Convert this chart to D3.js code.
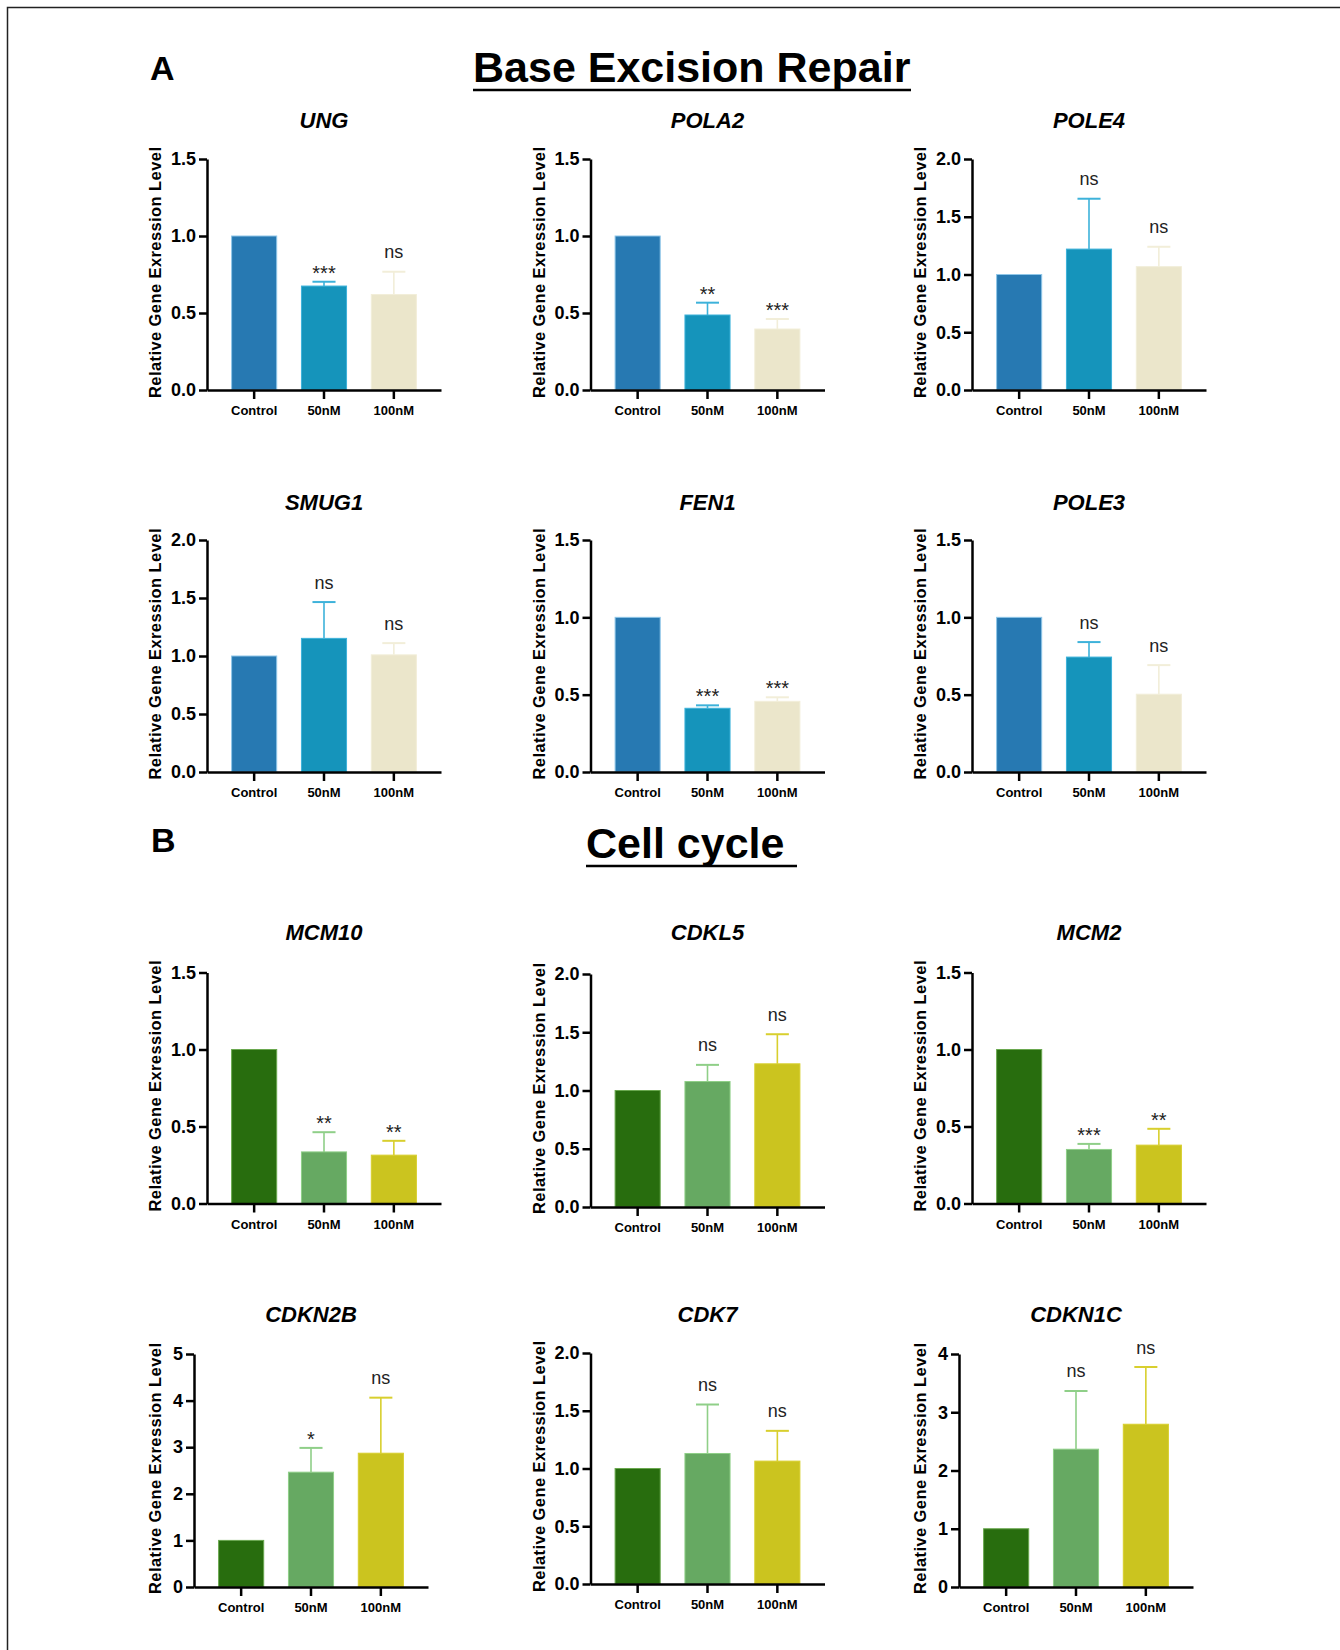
<!DOCTYPE html>
<html>
<head>
<meta charset="utf-8">
<script src="https://cdn.jsdelivr.net/npm/d3@7"></script>
<style>
  body { margin: 0; background: #fff; }
  svg { display: block; font-family: "Liberation Sans", Arial, sans-serif; }
</style>
</head>
<body>
<svg id="chart"></svg>
<script>
const width = 1340;
const height = 1650;

// data
const groups = ["Control", "50nM", "100nM"];
const genes = ["UNG", "POLA2", "POLE4", "SMUG1", "FEN1", "POLE3",
               "MCM10", "CDKL5", "MCM2", "CDKN2B", "CDK7", "CDKN1C"];
const means = [
  [1, 0.675, 0.62], [1, 0.487, 0.396], [1, 1.22, 1.068],
  [1, 1.152, 1.01], [1, 0.412, 0.457], [1, 0.743, 0.503],
  [1, 0.335, 0.314], [1, 1.077, 1.229], [1, 0.351, 0.379],
  [1, 2.464, 2.871], [1, 1.13, 1.064], [1, 2.366, 2.794]
];
const sds = [
  [0, 0.028, 0.148], [0, 0.08, 0.065], [0, 0.436, 0.172],
  [0, 0.313, 0.101], [0, 0.019, 0.026], [0, 0.097, 0.188],
  [0, 0.128, 0.093], [0, 0.143, 0.254], [0, 0.036, 0.106],
  [0, 0.521, 1.192], [0, 0.424, 0.262], [0, 0.999, 0.983]
];
const marks = [
  ["", "***", "ns"], ["", "**", "***"], ["", "ns", "ns"],
  ["", "ns", "ns"], ["", "***", "***"], ["", "ns", "ns"],
  ["", "**", "**"], ["", "ns", "ns"], ["", "***", "**"],
  ["", "*", "ns"], ["", "ns", "ns"], ["", "ns", "ns"]
];
const yMax = [1.5, 1.5, 2, 2, 1.5, 1.5, 1.5, 2, 1.5, 5, 2, 4];
const yStep = [0.5, 0.5, 0.5, 0.5, 0.5, 0.5, 0.5, 0.5, 0.5, 1, 0.5, 1];
const sections = ["Base Excision Repair", "Cell cycle"];
const letters = ["A", "B"];
const yTitle = "Relative Gene Exression Level";

// colours: first six panels blue set, last six green set
const palettes = [
  { fill: ["#2779b2", "#1594bb", "#ebe6cb"], edge: ["#8fc6e8", "#3db2da", "#f2eed9"] },
  { fill: ["#286d0e", "#66a962", "#cbc41f"], edge: ["#6aa84f", "#8fcf88", "#d8cf2e"] }
];

// layout
const colX = [161, 544.5, 926];          // baseline of the y title per column
const rowTitle = [128, 510, 940, 1322];
const panelBox = [                        // [axis bottom, plot height]
  [390, 231], [390, 231], [390, 231],
  [772, 232], [772, 232], [772, 232],
  [1203.5, 231], [1207, 233], [1203.5, 231],
  [1587, 233], [1584, 231], [1587, 233]
];
const plotW = 234;

const svg = d3.select("#chart").attr("width", width).attr("height", height);
svg.append("rect").attr("width", width).attr("height", height).attr("fill", "#fff");

svg.append("path")
  .attr("d", `M7.5,${height} V7.5 H${width}`)
  .attr("fill", "none").attr("stroke", "#222").attr("stroke-width", 1.5);

// section headers (underline runs a little past "Cell cycle", as in the figure)
const letterPos = [[150, 80], [151, 852]];
const headPos = [[473, 82], [586, 858]];
const underlineEnd = [911, 797];
sections.forEach((s, k) => {
  svg.append("text").attr("x", letterPos[k][0]).attr("y", letterPos[k][1])
    .attr("font-size", 34).attr("font-weight", "bold").text(letters[k]);
  svg.append("text").attr("x", headPos[k][0]).attr("y", headPos[k][1])
    .attr("font-size", 43).attr("font-weight", "bold").text(s);
  svg.append("line")
    .attr("x1", headPos[k][0]).attr("x2", underlineEnd[k])
    .attr("y1", headPos[k][1] + 8).attr("y2", headPos[k][1] + 8)
    .attr("stroke", "#000").attr("stroke-width", 2.5);
});

genes.forEach((gene, i) => {
  const row = Math.floor(i / 3), col = i % 3;
  const [bottom, h] = panelBox[i];
  const intTicks = yStep[i] >= 1;
  const x0 = colX[col] + (intTicks ? 33 : 46);
  const pal = palettes[i < 6 ? 0 : 1];

  const y = d3.scaleLinear().domain([0, yMax[i]]).range([h, 0]);
  const x = d3.scaleBand().domain(groups).range([0, plotW])
    .paddingInner(0.34).paddingOuter(0.345);

  const g = svg.append("g").attr("transform", `translate(${x0},${bottom - h})`);

  // bars
  g.selectAll("rect.bar").data(groups).join("rect")
    .attr("class", "bar")
    .attr("x", d => x(d) + 0.5)
    .attr("width", x.bandwidth() - 1)
    .attr("y", (d, j) => y(means[i][j]))
    .attr("height", (d, j) => h - y(means[i][j]))
    .attr("fill", (d, j) => pal.fill[j])
    .attr("stroke", (d, j) => pal.edge[j])
    .attr("stroke-width", 1);

  // error bars (upper only) and significance marks
  groups.forEach((d, j) => {
    if (!sds[i][j]) return;
    const cx = x(d) + x.bandwidth() / 2;
    const top = y(means[i][j] + sds[i][j]);
    const cap = x.bandwidth() / 2;
    g.append("line").attr("x1", cx).attr("x2", cx)
      .attr("y1", y(means[i][j])).attr("y2", top)
      .attr("stroke", pal.edge[j]).attr("stroke-width", 1.6);
    g.append("line").attr("x1", cx - cap / 2).attr("x2", cx + cap / 2)
      .attr("y1", top).attr("y2", top)
      .attr("stroke", pal.edge[j]).attr("stroke-width", 2);
    const m = marks[i][j];
    if (!m) return;
    if (m === "ns") {
      g.append("text").attr("x", cx).attr("y", top - 13.5)
        .attr("text-anchor", "middle")
        .attr("font-family", "'Liberation Sans Narrow', 'Liberation Sans', sans-serif")
        .attr("font-size", 18).attr("fill", "#222").text(m);
    } else {
      g.append("text").attr("x", cx).attr("y", top - 2)
        .attr("text-anchor", "middle")
        .attr("font-size", 20).attr("fill", "#222").text(m);
    }
  });

  // axes
  const ticks = d3.range(0, yMax[i] + 1e-9, yStep[i]);
  const yAxis = d3.axisLeft(y).tickValues(ticks)
    .tickFormat(d3.format(intTicks ? "d" : ".1f"))
    .tickSize(8).tickPadding(3).tickSizeOuter(0);
  const yg = g.append("g").call(yAxis);
  yg.selectAll("path, line").attr("stroke", "#000").attr("stroke-width", 2.5);
  yg.selectAll("text").attr("font-size", 18).attr("font-weight", "bold")
    .attr("font-family", "'Liberation Sans', Arial, sans-serif").attr("fill", "#000");

  const xAxis = d3.axisBottom(x).tickSize(9).tickSizeOuter(0);
  const xg = g.append("g").attr("transform", `translate(0,${h})`).call(xAxis);
  xg.selectAll("path, line").attr("stroke", "#000").attr("stroke-width", 2.5);
  xg.selectAll("text").attr("y", 25).attr("dy", 0)
    .attr("font-size", 13).attr("font-weight", "bold")
    .attr("font-family", "'Liberation Sans', Arial, sans-serif").attr("fill", "#000");

  // y title
  svg.append("text")
    .attr("transform", `translate(${colX[col]},${bottom - h / 2 - 2}) rotate(-90)`)
    .attr("text-anchor", "middle")
    .attr("font-size", 16.5).attr("font-weight", "bold")
    .attr("textLength", 251).attr("lengthAdjust", "spacing")
    .text(yTitle);

  // gene title
  svg.append("text")
    .attr("x", x0 + plotW / 2).attr("y", rowTitle[row])
    .attr("text-anchor", "middle")
    .attr("font-size", 22).attr("font-weight", "bold").attr("font-style", "italic")
    .text(gene);
});
</script>
</body>
</html>
